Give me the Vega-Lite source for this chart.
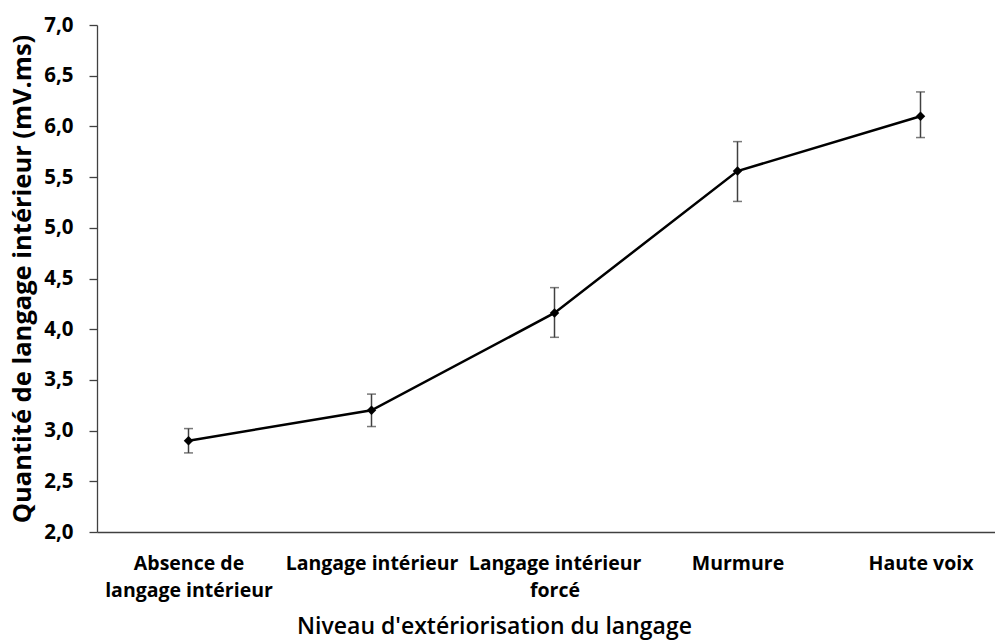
{
  "$schema": "https://vega.github.io/schema/vega-lite/v6.json",
  "width": 915,
  "height": 507,
  "autosize": "none",
  "padding": {"left": 97, "top": 25, "right": 0, "bottom": 109},
  "background": "white",
  "config": {
    "view": {"stroke": null},
    "font": "Open Sans"
  },
  "data": {
    "values": [
      {"niveau": "Absence de langage intérieur", "moyenne": 2.90, "bas": 2.78, "haut": 3.02},
      {"niveau": "Langage intérieur", "moyenne": 3.20, "bas": 3.04, "haut": 3.36},
      {"niveau": "Langage intérieur forcé", "moyenne": 4.16, "bas": 3.92, "haut": 4.41},
      {"niveau": "Murmure", "moyenne": 5.56, "bas": 5.26, "haut": 5.85},
      {"niveau": "Haute voix", "moyenne": 6.10, "bas": 5.89, "haut": 6.34}
    ]
  },
  "encoding": {
    "x": {
      "field": "niveau",
      "type": "nominal",
      "sort": null,
      "scale": {"type": "point", "padding": 0.5},
      "axis": {
        "title": "Niveau d'extériorisation du langage",
        "titleFontSize": 23,
        "titleFontWeight": 600,
        "titleColor": "#000000",
        "titleX": 397,
        "titleY": 101,
        "titleBaseline": "alphabetic",
        "labelAngle": 0,
        "labelFontSize": 19.5,
        "labelFontWeight": "bold",
        "labelColor": "#000000",
        "labelLineHeight": 27,
        "labelPadding": 31,
        "labelBaseline": "middle",
        "ticks": false,
        "domainColor": "#404040",
        "domainWidth": 1.3,
        "grid": false,
        "labelExpr": "datum.value == 'Absence de langage intérieur' ? ['Absence de', 'langage intérieur'] : datum.value == 'Langage intérieur forcé' ? ['Langage intérieur', 'forcé'] : datum.value"
      }
    }
  },
  "layer": [
    {
      "mark": {"type": "rule", "color": "#404040", "strokeWidth": 1.5},
      "encoding": {
        "y": {"field": "bas", "type": "quantitative"},
        "y2": {"field": "haut"}
      }
    },
    {
      "mark": {"type": "tick", "color": "#404040", "size": 9, "thickness": 1.5},
      "encoding": {"y": {"field": "bas", "type": "quantitative"}}
    },
    {
      "mark": {"type": "tick", "color": "#404040", "size": 9, "thickness": 1.5},
      "encoding": {"y": {"field": "haut", "type": "quantitative"}}
    },
    {
      "mark": {"type": "line", "color": "#000000", "strokeWidth": 2.5},
      "encoding": {
        "y": {
          "field": "moyenne",
          "type": "quantitative",
          "scale": {"domain": [2, 7], "nice": false, "zero": false},
          "axis": {
            "title": "Quantité de langage intérieur (mV.ms)",
            "titleFontSize": 25.5,
            "titleFontWeight": "bold",
            "titleColor": "#000000",
            "titleX": -75,
            "titleBaseline": "middle",
            "values": [2, 2.5, 3, 3.5, 4, 4.5, 5, 5.5, 6, 6.5, 7],
            "labelExpr": "replace(format(datum.value, '.1f'), '.', ',')",
            "labelFontSize": 20.5,
            "labelFontWeight": "bold",
            "labelColor": "#000000",
            "labelPadding": 16,
            "tickSize": 8,
            "tickColor": "#404040",
            "tickWidth": 1.3,
            "domainColor": "#404040",
            "domainWidth": 1.3,
            "grid": false
          }
        }
      }
    },
    {
      "mark": {"type": "point", "shape": "diamond", "filled": true, "color": "#000000", "size": 90, "opacity": 1},
      "encoding": {"y": {"field": "moyenne", "type": "quantitative"}}
    }
  ]
}
